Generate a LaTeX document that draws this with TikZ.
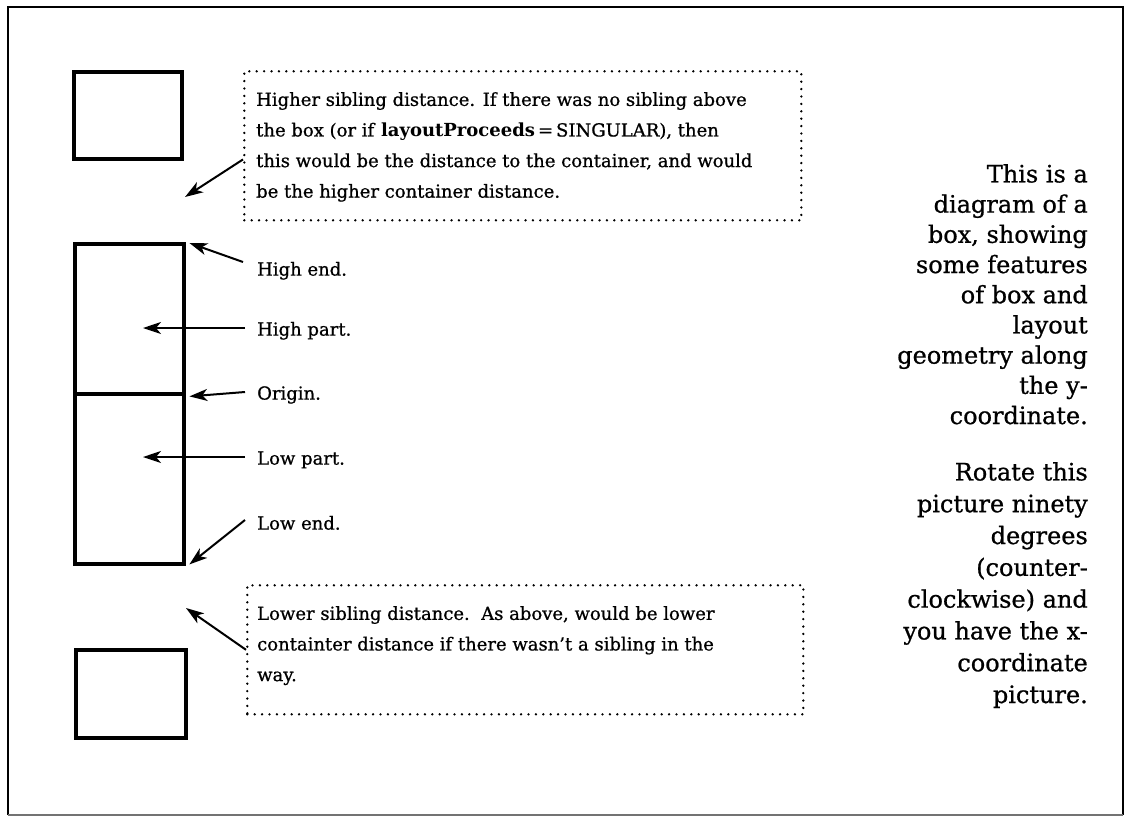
\documentclass[tikz,border=0pt]{standalone}
\usepackage{fontspec}
\setmainfont{DejaVu Serif}[UprightFeatures={FakeBold=0.8}]
\usetikzlibrary{arrows.meta,calc}
\begin{document}
\begin{tikzpicture}[x=1pt,y=-1pt,
  thickbox/.style={draw, line width=4.4pt, inner sep=0pt, anchor=north west},
  dotbox/.style={draw, line width=2.6pt, line cap=round, dash pattern=on 0pt off 7.4pt, inner sep=0pt, anchor=north west},
  arr/.style={line width=2pt, -{Stealth[length=18pt,width=12pt,inset=5pt]}},
  lbl/.style={anchor=mid west, inner sep=0pt, font=\fontsize{18}{30}\selectfont},
  para/.style={anchor=north west, inner sep=0pt, align=left, font=\fontsize{18}{30.6}\selectfont},
  side/.style={anchor=north east, inner sep=0pt, align=right, font=\fontsize{24}{30.2}\selectfont},
  side2/.style={side, font=\fontsize{24}{31.8}\selectfont},
]
\useasboundingbox (0,0) rectangle (1129,817);
% frame
\draw[line width=1.8pt] (8,815) -- (8,7) -- (1123,7) -- (1123,815);
\draw[line width=1.8pt, black!55] (8,815) -- (1123,815);

% boxes
\node[thickbox, minimum width=108pt, minimum height=87pt] (sibA) at (72,70) {};
\node[thickbox, minimum width=109pt, minimum height=150pt] (hi) at (73,242) {};
\node[thickbox, minimum width=109pt, minimum height=170pt] (lo) at (73,392) {};
\node[thickbox, minimum width=110pt, minimum height=88pt] (sibB) at (74,648) {};

% dotted boxes
\node[dotbox, minimum width=557pt, minimum height=149pt] (hsd) at (243,70) {};
\node[dotbox, minimum width=556pt, minimum height=129pt] (lsd) at (246,584) {};

\node[para] (hsdt) at (256,92) {Higher sibling distance. If there was no sibling above\\
the box (or if \textbf{layoutProceeds}\,=\,SINGULAR), then\\
this would be the distance to the container, and would\\
be the higher container distance.};

\node[para] (lsdt) at (257,606) {Lower sibling distance.\ \ As above, would be lower\\
containter distance if there wasn’t a sibling in the\\
way.};

% labels
\node[lbl] (lhe) at (257,273) {High end.};
\node[lbl] (lhp) at (257,333) {High part.};
\node[lbl] (lor) at (257,397) {Origin.};
\node[lbl] (llp) at (257,462) {Low part.};
\node[lbl] (lle) at (257,527) {Low end.};

% side text
\node[side] (note1) at (1088,164) {This is a\\diagram of a\\box, showing\\some features\\of box and\\layout\\geometry along\\the y-\\coordinate.};
\node[side2] (note2) at (1088,462) {Rotate this\\picture ninety\\degrees\\(counter-\\clockwise) and\\you have the x-\\coordinate\\picture.};

% arrows
\coordinate (hsdtip) at (185,197);
\coordinate (lsdtip) at (186,608);
\coordinate (hpTip) at (143,328);
\coordinate (lpTip) at (143,457);
\coordinate (tHE) at (243,262);
\coordinate (tHP) at (245,328);
\coordinate (tOR) at (245,392);
\coordinate (tLP) at (245,457);
\coordinate (tLE) at (245,520);

\draw[arr] ($(hsd.north west)!0.59!(hsd.south west)$) -- (hsdtip);
\draw[arr] ($(lsd.north west)!0.5!(lsd.south west)$) -- (lsdtip);
\draw[arr] (tHE) -- ($(hi.north east)+(3,1)$);
\draw[arr] (tHP) -- (hpTip);
\draw[arr] (tOR) -- ($(hi.south east)+(3,0)$);
\draw[arr] (tLP) -- (lpTip);
\draw[arr] (tLE) -- ($(lo.south east)+(3,-2)$);
\end{tikzpicture}
\end{document}
